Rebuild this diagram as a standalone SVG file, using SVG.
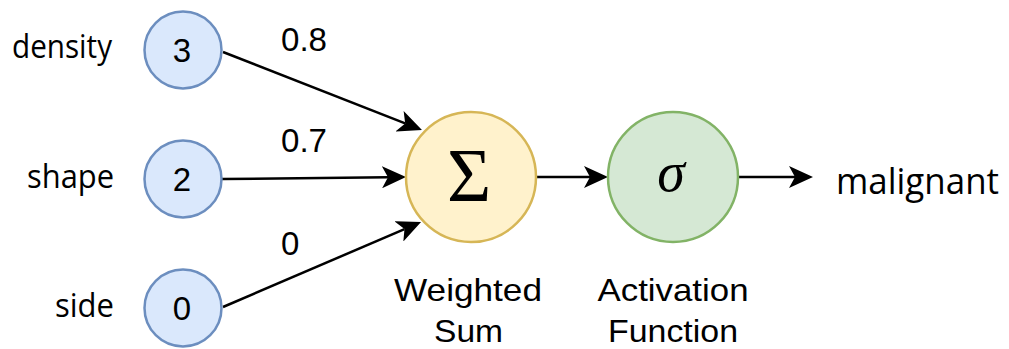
<svg xmlns="http://www.w3.org/2000/svg" width="1009" height="349" viewBox="0 0 1009 349">
  <defs>
    <!-- classic notched arrowhead; the line ends at the notch -->
    <marker id="arrow" markerUnits="userSpaceOnUse" viewBox="0 0 24 22" markerWidth="24" markerHeight="22" refX="6" refY="11" orient="auto">
      <path d="M0,0 L24,11 L0,22 L6,11 Z" fill="#000"/>
    </marker>
    <style>
      .input { fill: #dae8fc; stroke: #6c8ebf; stroke-width: 2.5; }
      .sum { fill: #fff2cc; stroke: #d6b656; stroke-width: 2.5; }
      .act { fill: #d5e8d4; stroke: #82b366; stroke-width: 2.5; }
      .edge { stroke: #000; stroke-width: 2.5; fill: none; marker-end: url(#arrow); }
      .num { font-family: "Liberation Sans", Arial, sans-serif; font-size: 33px; fill: #000; }
      .lbl { font-family: "Open Sans", "Noto Sans", sans-serif; font-size: 32px; fill: #000; }
      .out { font-family: "Open Sans", "Noto Sans", sans-serif; font-size: 37px; fill: #000; }
      .cap { font-family: "Liberation Sans", Arial, sans-serif; font-size: 32px; fill: #000; text-anchor: middle; }
      .math { font-family: "Liberation Serif", "Times New Roman", serif; fill: #000; text-anchor: middle; }
    </style>
  </defs>

  <!-- connectors -->
  <g id="edges">
    <line class="edge" x1="223" y1="52" x2="405.2" y2="123.4"/>
    <line class="edge" x1="222" y1="179" x2="388" y2="177.2"/>
    <line class="edge" x1="223" y1="307" x2="404.5" y2="229.1"/>
    <line class="edge" x1="536" y1="177" x2="590" y2="177"/>
    <line class="edge" x1="738" y1="177" x2="795" y2="177"/>
  </g>

  <!-- weights on the input edges -->
  <g id="weights">
    <text class="num" x="281" y="51" textLength="46" lengthAdjust="spacingAndGlyphs">0.8</text>
    <text class="num" x="281" y="152" textLength="46" lengthAdjust="spacingAndGlyphs">0.7</text>
    <text class="num" x="281" y="255">0</text>
  </g>

  <!-- inputs -->
  <g id="input-density">
    <circle class="input" cx="183" cy="50" r="38.5"/>
    <text class="num" x="182" y="62" text-anchor="middle">3</text>
    <text class="lbl" x="112" y="58" text-anchor="end" textLength="100" lengthAdjust="spacingAndGlyphs">density</text>
  </g>
  <g id="input-shape">
    <circle class="input" cx="183" cy="179" r="38.5"/>
    <text class="num" x="182" y="191" text-anchor="middle">2</text>
    <text class="lbl" x="114" y="188" text-anchor="end" textLength="87" lengthAdjust="spacingAndGlyphs">shape</text>
  </g>
  <g id="input-side">
    <circle class="input" cx="183" cy="308" r="38.5"/>
    <text class="num" x="182" y="320" text-anchor="middle">0</text>
    <text class="lbl" x="114" y="317" text-anchor="end" textLength="59" lengthAdjust="spacingAndGlyphs">side</text>
  </g>

  <!-- weighted sum -->
  <g id="weighted-sum">
    <circle class="sum" cx="471" cy="177" r="65"/>
    <text class="math" x="469" y="201" font-size="76">Σ</text>
    <text class="cap" x="468" y="301" textLength="148" lengthAdjust="spacingAndGlyphs">Weighted</text>
    <text class="cap" x="468.5" y="342" textLength="69" lengthAdjust="spacingAndGlyphs">Sum</text>
  </g>

  <!-- activation function -->
  <g id="activation">
    <circle class="act" cx="673" cy="177" r="65"/>
    <text class="math" x="671" y="191" font-size="56" font-style="italic">σ</text>
    <text class="cap" x="673" y="301" textLength="151" lengthAdjust="spacingAndGlyphs">Activation</text>
    <text class="cap" x="673" y="342" textLength="130" lengthAdjust="spacingAndGlyphs">Function</text>
  </g>

  <!-- output -->
  <g id="output">
    <text class="out" x="836" y="194" textLength="163" lengthAdjust="spacingAndGlyphs">malignant</text>
  </g>
</svg>
